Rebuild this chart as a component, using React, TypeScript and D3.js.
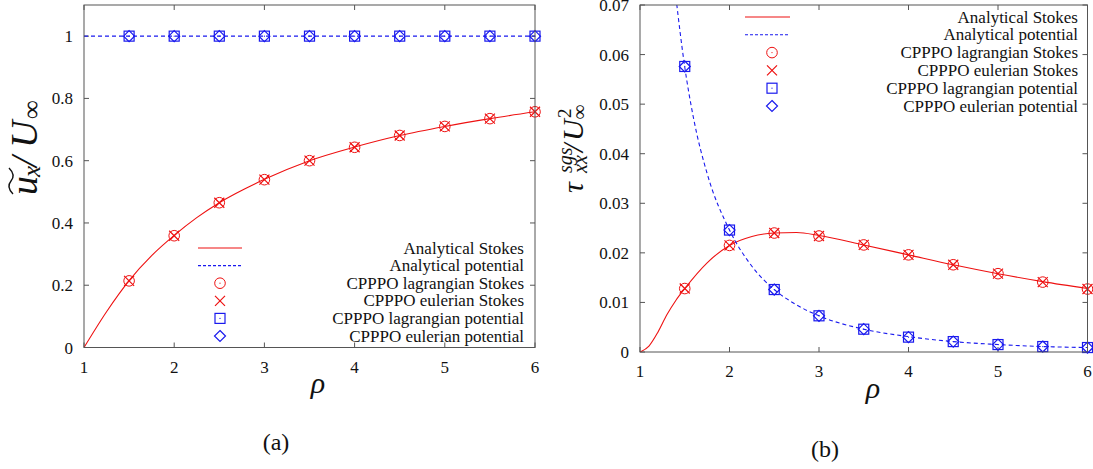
import React from "react";
import * as d3 from "d3";

// ---------- data ----------
const rhoMarkers = [1.5, 2, 2.5, 3, 3.5, 4, 4.5, 5, 5.5, 6];

// panel (a)
const aStokesCurveRho = [1, 1.25, 1.5, 1.75, 2, 2.25, 2.5, 3, 3.5, 4, 4.5, 5, 5.5, 6];
const aStokesCurveVal = [0, 0.115, 0.215, 0.295, 0.36, 0.417, 0.465, 0.54, 0.6, 0.644, 0.681, 0.71, 0.735, 0.757];
const aPotentialCurveRho = [1, 6];
const aPotentialCurveVal = [1, 1];
const aLagStokes = [0.214, 0.359, 0.465, 0.539, 0.6, 0.643, 0.681, 0.71, 0.735, 0.757];
const aEulStokes = [0.214, 0.359, 0.465, 0.539, 0.6, 0.643, 0.681, 0.71, 0.735, 0.757];
const aLagPotential = [1, 1, 1, 1, 1, 1, 1, 1, 1, 1];
const aEulPotential = [1, 1, 1, 1, 1, 1, 1, 1, 1, 1];

// panel (b)
const bStokesCurveRho = [1, 1.1, 1.2, 1.3, 1.4, 1.5, 1.75, 2, 2.25, 2.5, 2.75, 3, 3.5, 4, 4.5, 5, 5.5, 6];
const bStokesCurveVal = [0, 0.0012, 0.004, 0.0075, 0.0104, 0.0128, 0.018, 0.0215, 0.0233, 0.024, 0.0241, 0.0235, 0.0216, 0.0196, 0.0176, 0.0158, 0.0142, 0.0128];
const bPotentialCurveRho = [1.35, 1.4, 1.5, 1.6, 1.75, 2, 2.25, 2.5, 2.75, 3, 3.5, 4, 4.5, 5, 5.5, 6];
const bPotentialCurveVal = [0.08, 0.0718, 0.0575, 0.047, 0.036, 0.0246, 0.0173, 0.0126, 0.0095, 0.0073, 0.0046, 0.0031, 0.0021, 0.0015, 0.0011, 0.0009];
const bLagStokes = [0.0128, 0.0215, 0.024, 0.0234, 0.0216, 0.0196, 0.0176, 0.0158, 0.0141, 0.0127];
const bEulStokes = [0.0128, 0.0215, 0.024, 0.0234, 0.0216, 0.0196, 0.0176, 0.0158, 0.0141, 0.0127];
const bLagPotential = [0.0576, 0.0246, 0.0126, 0.0073, 0.0046, 0.003, 0.0021, 0.0015, 0.0011, 0.0009];
const bEulPotential = [0.0576, 0.0246, 0.0126, 0.0073, 0.0046, 0.003, 0.0021, 0.0015, 0.0011, 0.0009];

const xTicks = [1, 2, 3, 4, 5, 6];
const aYTicks = [0, 0.2, 0.4, 0.6, 0.8, 1];
const aYTickLabels = ["0", "0.2", "0.4", "0.6", "0.8", "1"];
const bYTicks = [0, 0.01, 0.02, 0.03, 0.04, 0.05, 0.06, 0.07];
const bYTickLabels = ["0", "0.01", "0.02", "0.03", "0.04", "0.05", "0.06", "0.07"];
const legendLabels = [
  "Analytical Stokes",
  "Analytical potential",
  "CPPPO lagrangian Stokes",
  "CPPPO eulerian Stokes",
  "CPPPO lagrangian potential",
  "CPPPO eulerian potential",
];

const RED = "#ee1111";
const BLUE = "#1a1aee";
const AXIS = "#555";
const FONT = "'Liberation Serif', 'Times New Roman', Times, 'DejaVu Serif', serif";
const TXT = "#111";

type PanelProps = {
  id: string;
  left: number; right: number; top: number; bottom: number;
  yMax: number;
  yTicks: number[]; yTickLabels: string[];
  stokesRho: number[]; stokesVal: number[];
  potRho: number[]; potVal: number[];
  lagS: number[]; eulS: number[]; lagP: number[]; eulP: number[];
  legend: { lineX0: number; lineX1: number; symX: number; textX: number; y0: number; dy: number };
  xLabel: { x: number; y: number };
  tag: { text: string; x: number; y: number };
  yLabel: React.ReactNode;
};

const tStyle = { fontFamily: FONT };

function Circle({ x, y, color }: { x: number; y: number; color: string }) {
  return (
    <g>
      <circle cx={x} cy={y} r={5.3} fill="none" stroke={color} strokeWidth={1} />
      <circle cx={x} cy={y} r={0.6} fill={color} />
    </g>
  );
}
function Cross({ x, y, color }: { x: number; y: number; color: string }) {
  const s = 5;
  return (
    <path d={`M${x - s},${y - s}L${x + s},${y + s}M${x - s},${y + s}L${x + s},${y - s}`} stroke={color} strokeWidth={1.2} fill="none" />
  );
}
function Square({ x, y, color }: { x: number; y: number; color: string }) {
  const s = 5;
  return (
    <g>
      <rect x={x - s} y={y - s} width={2 * s} height={2 * s} fill="none" stroke={color} strokeWidth={1.2} />
      <circle cx={x} cy={y} r={0.6} fill={color} />
    </g>
  );
}
function Diamond({ x, y, color }: { x: number; y: number; color: string }) {
  const s = 5.5;
  return (
    <path d={`M${x},${y - s}L${x + s},${y}L${x},${y + s}L${x - s},${y}Z`} stroke={color} strokeWidth={1.2} fill="none" />
  );
}

function Panel(p: PanelProps) {
  const x = d3.scaleLinear().domain([1, 6]).range([p.left, p.right]);
  const y = d3.scaleLinear().domain([0, p.yMax]).range([p.bottom, p.top]);
  const line = d3
    .line<[number, number]>()
    .x((d) => x(d[0]))
    .y((d) => y(d[1]))
    .curve(d3.curveMonotoneX);
  const stokesPath = line(p.stokesRho.map((r, i) => [r, p.stokesVal[i]] as [number, number])) || "";
  const potPath = line(p.potRho.map((r, i) => [r, p.potVal[i]] as [number, number])) || "";
  const tl = 5;
  const L = p.legend;
  return (
    <g style={tStyle}>
      <defs>
        <clipPath id={`clip-${p.id}`}>
          <rect x={p.left} y={p.top} width={p.right - p.left} height={p.bottom - p.top} />
        </clipPath>
      </defs>
      {xTicks.map((t) => (
        <g key={`xt${t}`}>
          <line x1={x(t)} x2={x(t)} y1={p.bottom} y2={p.bottom - tl} stroke={AXIS} />
          <line x1={x(t)} x2={x(t)} y1={p.top} y2={p.top + tl} stroke={AXIS} />
          <text x={x(t)} y={p.bottom + 25} textAnchor="middle" fontSize={17} fill={TXT} style={tStyle}>{t}</text>
        </g>
      ))}
      {p.yTicks.map((t, i) => (
        <g key={`yt${t}`}>
          <line x1={p.left} x2={p.left + tl} y1={y(t)} y2={y(t)} stroke={AXIS} />
          <line x1={p.right} x2={p.right - tl} y1={y(t)} y2={y(t)} stroke={AXIS} />
          <text x={p.left - 11} y={y(t) + 6} textAnchor="end" fontSize={17} fill={TXT} style={tStyle}>{p.yTickLabels[i]}</text>
        </g>
      ))}
      <g clipPath={`url(#clip-${p.id})`}>
        <path d={stokesPath} fill="none" stroke={RED} strokeWidth={1.1} />
        <path d={potPath} fill="none" stroke={BLUE} strokeWidth={1.1} strokeDasharray="4,3" />
      </g>
      {rhoMarkers.map((r, i) => (
        <g key={`m${r}`}>
          <Circle x={x(r)} y={y(p.lagS[i])} color={RED} />
          <Cross x={x(r)} y={y(p.eulS[i])} color={RED} />
          <Square x={x(r)} y={y(p.lagP[i])} color={BLUE} />
          <Diamond x={x(r)} y={y(p.eulP[i])} color={BLUE} />
        </g>
      ))}
      <rect x={p.left} y={p.top} width={p.right - p.left} height={p.bottom - p.top} fill="none" stroke={AXIS} strokeWidth={1} />
      {legendLabels.map((lab, i) => {
        const ly = L.y0 + i * L.dy;
        return (
          <g key={lab}>
            <text x={L.textX} y={ly + 5.5} textAnchor="end" fontSize={17} fill={TXT} style={tStyle}>{lab}</text>
            {i === 0 && <line x1={L.lineX0} x2={L.lineX1} y1={ly} y2={ly} stroke={RED} strokeWidth={1.1} />}
            {i === 1 && <line x1={L.lineX0} x2={L.lineX1} y1={ly} y2={ly} stroke={BLUE} strokeWidth={1.1} strokeDasharray="3,2" />}
            {i === 2 && <Circle x={L.symX} y={ly} color={RED} />}
            {i === 3 && <Cross x={L.symX} y={ly} color={RED} />}
            {i === 4 && <Square x={L.symX} y={ly} color={BLUE} />}
            {i === 5 && <Diamond x={L.symX} y={ly} color={BLUE} />}
          </g>
        );
      })}
      <text x={p.xLabel.x} y={p.xLabel.y} textAnchor="middle" fontSize={30} fontStyle="italic" fill={TXT} style={tStyle}>ρ</text>
      <text x={p.tag.x} y={p.tag.y} textAnchor="middle" fontSize={24} fill={TXT} style={tStyle}>{p.tag.text}</text>
      {p.yLabel}
    </g>
  );
}

export default function App() {
  return (
    <svg width={1093} height={469} style={{ position: "absolute", left: 0, top: 0, background: "#fff" }}>
      <rect width={1093} height={469} fill="#fff" />
      <Panel
        id="a"
        left={84} right={535} top={5} bottom={347.5}
        yMax={1.1}
        yTicks={aYTicks} yTickLabels={aYTickLabels}
        stokesRho={aStokesCurveRho} stokesVal={aStokesCurveVal}
        potRho={aPotentialCurveRho} potVal={aPotentialCurveVal}
        lagS={aLagStokes} eulS={aEulStokes} lagP={aLagPotential} eulP={aEulPotential}
        legend={{ lineX0: 198, lineX1: 242, symX: 220, textX: 524, y0: 248, dy: 17.6 }}
        xLabel={{ x: 318, y: 393 }}
        tag={{ text: "(a)", x: 276, y: 450 }}
        yLabel={
          <g transform="translate(37,0) rotate(-90)" style={tStyle} fontStyle="italic" fill={TXT}>
            <text x={-195} y={0} fontSize={38} style={tStyle}>u</text>
            <path d="M-194,-24 Q-187,-31 -181,-26 T-168,-28" fill="none" stroke={TXT} strokeWidth={1.4} />
            <text x={-177} y={3} fontSize={25} style={tStyle}>x</text>
            <text x={-167} y={0} fontSize={38} style={tStyle}>/</text>
            <text x={-148} y={0} fontSize={38} style={tStyle}>U</text>
            <text x={-119} y={3} fontSize={26} style={tStyle}>∞</text>
          </g>
        }
      />
      <Panel
        id="b"
        left={640} right={1087.5} top={5} bottom={352}
        yMax={0.07}
        yTicks={bYTicks} yTickLabels={bYTickLabels}
        stokesRho={bStokesCurveRho} stokesVal={bStokesCurveVal}
        potRho={bPotentialCurveRho} potVal={bPotentialCurveVal}
        lagS={bLagStokes} eulS={bEulStokes} lagP={bLagPotential} eulP={bEulPotential}
        legend={{ lineX0: 745, lineX1: 790, symX: 772, textX: 1078, y0: 17, dy: 17.8 }}
        xLabel={{ x: 873, y: 398 }}
        tag={{ text: "(b)", x: 825, y: 457 }}
        yLabel={
          <g transform="translate(583,0) rotate(-90)" style={tStyle} fontStyle="italic" fill={TXT}>
            <text x={-193} y={0} fontSize={30} style={tStyle}>τ</text>
            <text x={-173} y={-11} fontSize={20} style={tStyle}>sgs</text>
            <text x={-173} y={4} fontSize={20} style={tStyle}>xx</text>
            <text x={-152} y={0} fontSize={30} style={tStyle}>/</text>
            <text x={-141} y={0} fontSize={30} style={tStyle}>U</text>
            <text x={-118} y={-12} fontSize={19} fontStyle="normal" style={tStyle}>2</text>
            <text x={-119} y={3} fontSize={20} style={tStyle}>∞</text>
          </g>
        }
      />
    </svg>
  );
}
